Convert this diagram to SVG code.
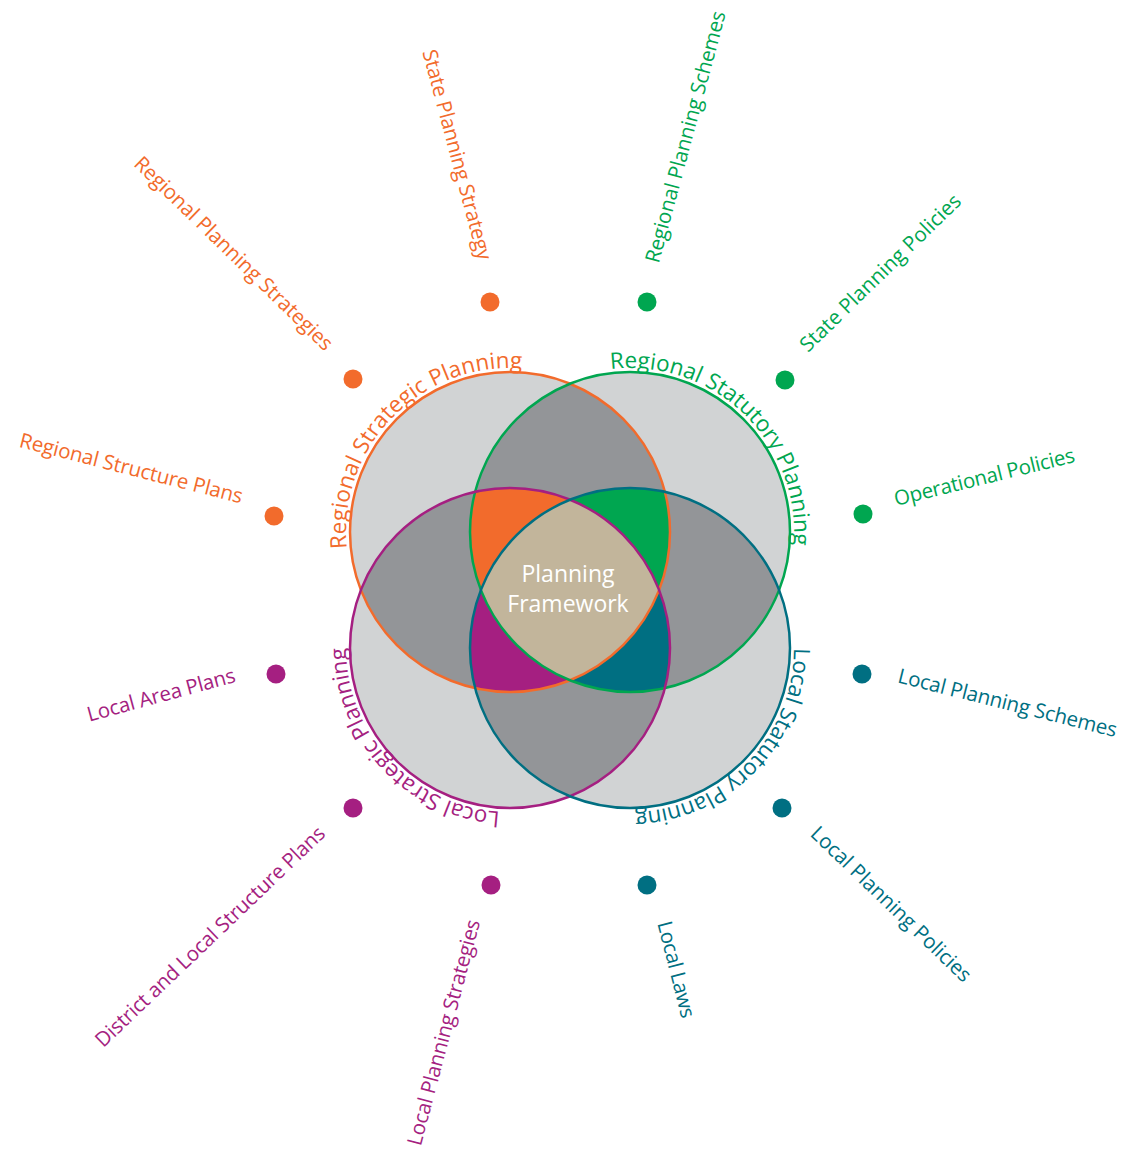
<svg xmlns="http://www.w3.org/2000/svg" width="1135" height="1150" viewBox="0 0 1135 1150">
<defs>
<style>
text{font-family:"Open Sans","Noto Sans","Liberation Sans",sans-serif;}
.lbl{font-size:20.5px;}
.arc{font-size:22.5px;}
.ctr{font-size:23px;fill:#FFFFFF;text-anchor:middle;}
.o{fill:#F26B2C}.g{fill:#00A650}.p{fill:#A51F81}.t{fill:#006F82}
.lt{fill:#D1D3D4}.dk{fill:#939598}.tan{fill:#C2B59B}
.ring{fill:none;stroke-width:2.5}
</style>
<circle id="shO" cx="510" cy="532" r="160"/>
<circle id="shG" cx="630" cy="532" r="160"/>
<circle id="shP" cx="510" cy="648" r="160"/>
<circle id="shT" cx="630" cy="648" r="160"/>
<clipPath id="cO"><circle cx="510" cy="532" r="160"/></clipPath>
<clipPath id="cG"><circle cx="630" cy="532" r="160"/></clipPath>
<clipPath id="cP"><circle cx="510" cy="648" r="160"/></clipPath>
<clipPath id="cT"><circle cx="630" cy="648" r="160"/></clipPath>
<path id="arcO" d="M346.8,548.3 A164,164 0 0 1 592,390"/>
<path id="arcG" d="M610.6,369.2 A164,164 0 0 1 784.1,588.1"/>
<path id="arcT" d="M794,648 A164,164 0 0 1 573.9,802.1"/>
<path id="arcP" d="M500,811.7 A164,164 0 0 1 355.9,591.9"/>
</defs>
<rect width="1135" height="1150" fill="#FFFFFF"/>

<g id="venn">
  <g id="single">
    <use href="#shO" class="lt"/>
    <use href="#shG" class="lt"/>
    <use href="#shP" class="lt"/>
    <use href="#shT" class="lt"/>
  </g>
  <g id="pairs">
    <g clip-path="url(#cO)"><use href="#shG" class="dk"/><use href="#shP" class="dk"/><use href="#shT" class="dk"/></g>
    <g clip-path="url(#cG)"><use href="#shP" class="dk"/><use href="#shT" class="dk"/></g>
    <g clip-path="url(#cP)"><use href="#shT" class="dk"/></g>
  </g>
  <g id="triples">
    <g clip-path="url(#cO)"><g clip-path="url(#cG)"><use href="#shP" class="o"/></g></g>
    <g clip-path="url(#cO)"><g clip-path="url(#cG)"><use href="#shT" class="g"/></g></g>
    <g clip-path="url(#cO)"><g clip-path="url(#cP)"><use href="#shT" class="p"/></g></g>
    <g clip-path="url(#cG)"><g clip-path="url(#cP)"><use href="#shT" class="t"/></g></g>
  </g>
  <g id="quad">
    <g clip-path="url(#cO)"><g clip-path="url(#cG)"><g clip-path="url(#cP)"><use href="#shT" class="tan"/></g></g></g>
  </g>
</g>

<g id="regional-strategic-planning">
  <use href="#shO" class="ring" stroke="#F26B2C"/>
  <text class="arc o"><textPath href="#arcO" textLength="285.7">Regional Strategic Planning</textPath></text>
</g>
<g id="regional-statutory-planning">
  <use href="#shG" class="ring" stroke="#00A650"/>
  <text class="arc g"><textPath href="#arcG" textLength="290">Regional Statutory Planning</textPath></text>
</g>
<g id="local-strategic-planning">
  <use href="#shP" class="ring" stroke="#A51F81"/>
  <text class="arc p"><textPath href="#arcP" textLength="247.6">Local Strategic Planning</textPath></text>
</g>
<g id="local-statutory-planning">
  <use href="#shT" class="ring" stroke="#006F82"/>
  <text class="arc t"><textPath href="#arcT" textLength="252.7">Local Statutory Planning</textPath></text>
</g>

<g id="planning-framework">
  <text class="ctr" x="568" y="581.7">Planning</text>
  <text class="ctr" x="568" y="611.7">Framework</text>
</g>

<g id="state-planning-strategy">
  <circle class="o" cx="490" cy="302" r="9.5"/>
  <text class="lbl o" x="422.3" y="51.7" transform="rotate(75 422.3 51.7)" textLength="217">State Planning Strategy</text>
</g>
<g id="regional-planning-strategies">
  <circle class="o" cx="353" cy="379" r="9.5"/>
  <text class="lbl o" x="132.7" y="165" transform="rotate(44.2 132.7 165)" textLength="268">Regional Planning Strategies</text>
</g>
<g id="regional-structure-plans">
  <circle class="o" cx="274" cy="516" r="9.5"/>
  <text class="lbl o" x="18.3" y="446.7" transform="rotate(14.3 18.3 446.7)" textLength="229.5">Regional Structure Plans</text>
</g>
<g id="regional-planning-schemes">
  <circle class="g" cx="647" cy="302" r="9.5"/>
  <text class="lbl g" x="658.7" y="264" transform="rotate(-75 658.7 264)" textLength="259.5">Regional Planning Schemes</text>
</g>
<g id="state-planning-policies">
  <circle class="g" cx="785" cy="380" r="9.5"/>
  <text class="lbl g" x="808" y="353" transform="rotate(-44.2 808 353)" textLength="215.7">State Planning Policies</text>
</g>
<g id="operational-policies">
  <circle class="g" cx="863" cy="514" r="9.5"/>
  <text class="lbl g" x="896" y="506" transform="rotate(-13.8 896 506)" textLength="185.4">Operational Policies</text>
</g>
<g id="local-planning-schemes">
  <circle class="t" cx="862" cy="674" r="9.5"/>
  <text class="lbl t" x="896.7" y="682.3" transform="rotate(14.1 896.7 682.3)" textLength="225">Local Planning Schemes</text>
</g>
<g id="local-planning-policies">
  <circle class="t" cx="782" cy="808" r="9.5"/>
  <text class="lbl t" x="809.3" y="835" transform="rotate(43.9 809.3 835)" textLength="213.8">Local Planning Policies</text>
</g>
<g id="local-laws">
  <circle class="t" cx="647" cy="885" r="9.5"/>
  <text class="lbl t" x="657.3" y="923.3" transform="rotate(75.7 657.3 923.3)" textLength="99">Local Laws</text>
</g>
<g id="local-planning-strategies">
  <circle class="p" cx="491" cy="885" r="9.5"/>
  <text class="lbl p" x="420.7" y="1146.7" transform="rotate(-75.2 420.7 1146.7)" textLength="232.7">Local Planning Strategies</text>
</g>
<g id="district-and-local-structure-plans">
  <circle class="p" cx="353" cy="808" r="9.5"/>
  <text class="lbl p" x="103.3" y="1048.3" transform="rotate(-43.7 103.3 1048.3)" textLength="308.9">District and Local Structure Plans</text>
</g>
<g id="local-area-plans">
  <circle class="p" cx="276" cy="674" r="9.5"/>
  <text class="lbl p" x="89.3" y="721.7" transform="rotate(-15.2 89.3 721.7)" textLength="152.7">Local Area Plans</text>
</g>
</svg>
